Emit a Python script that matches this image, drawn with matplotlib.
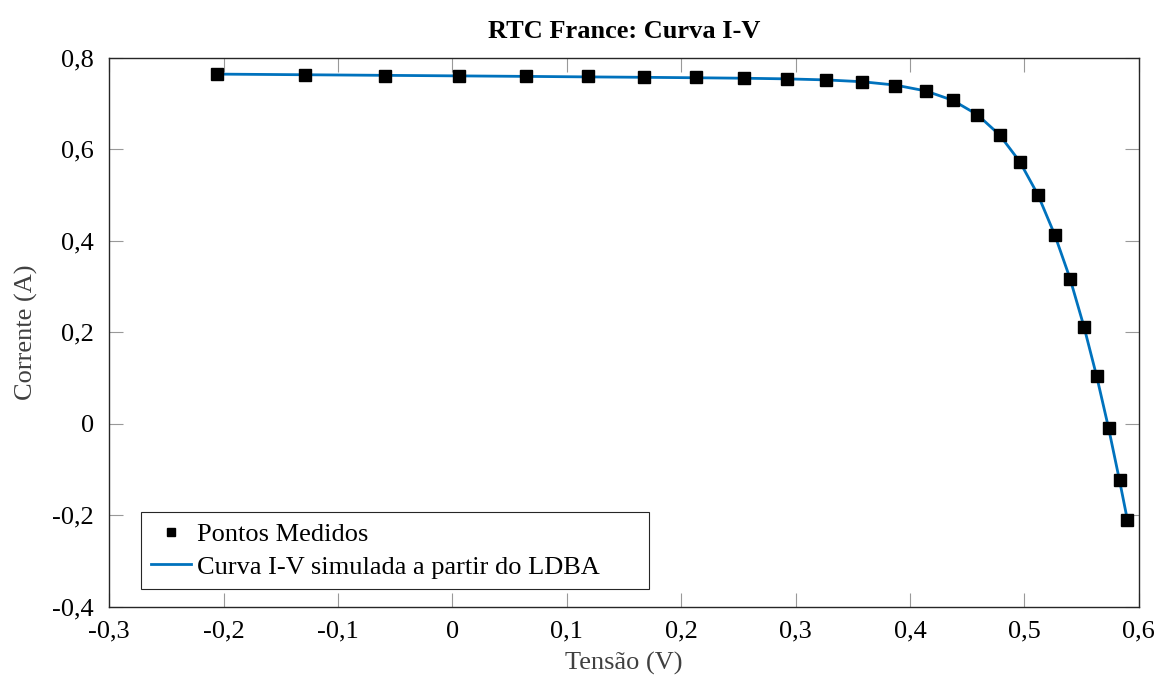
import numpy as np
import matplotlib.pyplot as plt
from matplotlib.ticker import FuncFormatter

plt.rcParams['font.family'] = ['Liberation Serif', 'DejaVu Serif']

# RTC France measured I-V data
tensao = [-0.2057, -0.1291, -0.0588, 0.0057, 0.0646, 0.1185, 0.1678, 0.2132,
          0.2545, 0.2924, 0.3269, 0.3585, 0.3873, 0.4137, 0.4373, 0.4590,
          0.4784, 0.4960, 0.5119, 0.5265, 0.5398, 0.5521, 0.5633, 0.5736,
          0.5833, 0.5900]
corrente = [0.7640, 0.7620, 0.7605, 0.7605, 0.7600, 0.7590, 0.7570, 0.7570,
            0.7555, 0.7540, 0.7505, 0.7465, 0.7385, 0.7280, 0.7065, 0.6755,
            0.6320, 0.5730, 0.4990, 0.4130, 0.3165, 0.2120, 0.1035, -0.0100,
            -0.1230, -0.2100]

# LDBA simulated curve evaluated at the measured voltages
corrente_sim = [0.7641, 0.7627, 0.7614, 0.7602, 0.7591, 0.7580, 0.7571, 0.7561,
                0.7551, 0.7537, 0.7514, 0.7474, 0.7401, 0.7274, 0.7070, 0.6753,
                0.6311, 0.5728, 0.5003, 0.4134, 0.3185, 0.2124, 0.1031, -0.0089,
                -0.1249, -0.2089]

xticks = [-0.3, -0.2, -0.1, 0, 0.1, 0.2, 0.3, 0.4, 0.5, 0.6]
yticks = [-0.4, -0.2, 0, 0.2, 0.4, 0.6, 0.8]

fig = plt.figure(figsize=(11.55, 6.77), dpi=100)
ax = fig.add_axes([0.0946, 0.1038, 0.8913, 0.811])

ax.plot(tensao, corrente, 's', color='black', markersize=8,
        label='Pontos Medidos', zorder=3)
ax.plot(tensao, corrente_sim, '-', color='#0072BD', linewidth=2.0,
        label='Curva I-V simulada a partir do LDBA', zorder=2)

ax.set_xlim(-0.3, 0.6)
ax.set_ylim(-0.4, 0.8)
ax.set_xticks(xticks)
ax.set_yticks(yticks)

def virgula(v, pos):
    s = ('%.1f' % v).replace('.', ',')
    if s in ('0,0', '-0,0'):
        s = '0'
    return s

ax.xaxis.set_major_formatter(FuncFormatter(virgula))
ax.yaxis.set_major_formatter(FuncFormatter(virgula))
ax.tick_params(direction='in', top=True, right=True, length=10, width=0.8,
               color='#999999', labelsize=19, labelcolor='black')
ax.tick_params(axis='x', pad=10)
ax.tick_params(axis='y', pad=11)
for sp in ax.spines.values():
    sp.set_color('#262626')
    sp.set_linewidth(1.0)

ax.set_title('RTC France: Curva I-V', fontsize=19, fontweight='bold', pad=14)
ax.set_xlabel('Tensão (V)', fontsize=19, color='#404040', labelpad=7)
ax.set_ylabel('Corrente (A)', fontsize=19, color='#404040', labelpad=10)

# legend box stretched to a fixed width
leg = ax.legend(loc='lower left', bbox_to_anchor=(0.0305, 0.032, 0.4935, 0.2),
                mode='expand', fontsize=19,
                fancybox=False, framealpha=1, edgecolor='#262626',
                markerscale=0.75, handlelength=1.5, handletextpad=0.25,
                borderpad=0.4, labelspacing=0.35, borderaxespad=0)
leg.get_frame().set_linewidth(0.8)

fig.savefig('out.png', dpi=100)
